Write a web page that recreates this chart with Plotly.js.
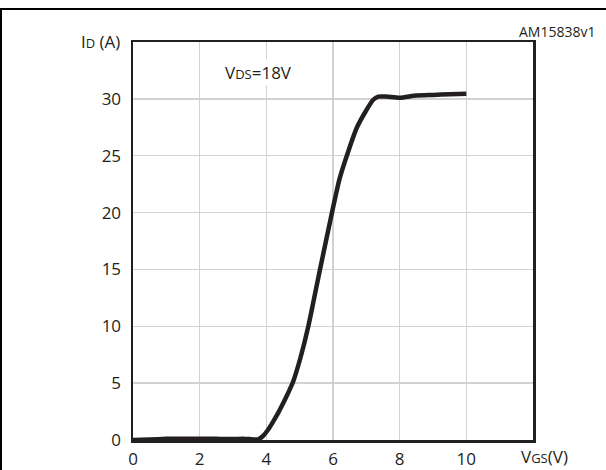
<!DOCTYPE html>
<html>
<head>
<meta charset="utf-8">
<script src="https://cdn.plot.ly/plotly-3.0.1.min.js"></script>
<style>html,body{margin:0;padding:0;background:#fff;}#chart{width:606px;height:470px;}</style>
</head>
<body>
<div id="chart"></div>
<script>
// V_GS (V)
const vgs = [0, 0.5, 1, 1.5, 2, 2.5, 3, 3.3, 3.6, 3.75, 3.9, 4.05, 4.2, 4.36, 4.5, 4.6, 4.8, 5.03, 5.26, 5.61, 5.97, 6.2, 6.46, 6.72, 7.0, 7.2, 7.36, 7.6, 8.0, 8.5, 9.0, 9.5, 10];
// I_D (A)
const id = [0, 0.05, 0.1, 0.12, 0.12, 0.1, 0.08, 0.12, 0.05, 0.05, 0.35, 0.9, 1.6, 2.4, 3.2, 3.8, 5.1, 7.3, 10, 15, 20, 23, 25.4, 27.5, 29, 29.9, 30.2, 30.2, 30.1, 30.3, 30.35, 30.4, 30.45];
const xTicks = [0, 2, 4, 6, 8, 10];
const yTicks = [0, 5, 10, 15, 20, 25, 30];

const FONT = "Open Sans, DejaVu Sans, sans-serif";
const INK = "#231f20";

const trace = {
  x: vgs, y: id, type: "scatter", mode: "lines",
  line: {color: INK, width: 4.5, shape: "spline", smoothing: 0.6},
  hoverinfo: "skip"
};

const W = 606, H = 470, L = 133, R = 73, T = 42, B = 30;
const pw = W - L - R, ph = H - T - B;
const px = p => (p - L) / pw;
const py = p => (H - B - p) / ph;

const layout = {
  width: W, height: H,
  margin: {l: L, r: R, t: T, b: B, pad: 0},
  paper_bgcolor: "#fff", plot_bgcolor: "#fff",
  showlegend: false,
  font: {family: FONT, size: 17, color: INK},
  xaxis: {
    range: [0, 12], tickvals: xTicks, ticktext: xTicks.map(String),
    showgrid: true, gridcolor: "#d2d2d2", gridwidth: 1.5,
    showline: true, mirror: true, linecolor: INK, linewidth: 2.5,
    ticks: "", ticklen: 0, zeroline: false, ticklabelstandoff: 2,
    tickfont: {family: FONT, size: 17, color: INK}, fixedrange: true
  },
  yaxis: {
    range: [0, 35], tickvals: yTicks, ticktext: yTicks.map(String),
    showgrid: true, gridcolor: "#d2d2d2", gridwidth: 1.5,
    showline: true, mirror: true, linecolor: INK, linewidth: 2.5,
    ticks: "", ticklen: 0, zeroline: false, ticklabelstandoff: 6,
    tickfont: {family: FONT, size: 17, color: INK}, fixedrange: true
  },
  shapes: [
    {type: "rect", xref: "paper", yref: "paper",
     x0: px(1), x1: px(700), y0: py(600), y1: py(9),
     line: {color: "#000", width: 2}, fillcolor: "rgba(0,0,0,0)", layer: "below"}
  ],
  annotations: [
    {xref: "paper", yref: "paper", x: px(109), y: py(-1), xanchor: "left", yanchor: "bottom",
     text: "<b>Figure</b>", showarrow: false,
     font: {family: "Liberation Sans, Arial, sans-serif", size: 16, color: "#000"}},
    {xref: "paper", yref: "paper", x: px(122), y: py(41), xanchor: "right", yanchor: "middle",
     text: "I<span style='font-size:13px'>D</span> (A)", showarrow: false,
     font: {family: FONT, size: 17, color: INK}},
    {xref: "paper", yref: "paper", x: px(544), y: py(457), xanchor: "center", yanchor: "middle",
     text: "V<span style='font-size:13px'>GS</span>(V)", showarrow: false,
     font: {family: FONT, size: 17, color: INK}},
    {xref: "paper", yref: "paper", x: px(597), y: py(31), xanchor: "right", yanchor: "middle",
     text: "AM15838v1", showarrow: false,
     font: {family: FONT, size: 14, color: INK}},
    {xref: "paper", yref: "paper", x: px(223), y: py(73), xanchor: "left", yanchor: "middle",
     text: "V<span style='font-size:13px'>DS</span>=18V", showarrow: false, bgcolor: "#fff",
     font: {family: FONT, size: 17, color: INK}}
  ]
};

Plotly.newPlot("chart", [trace], layout, {staticPlot: true, displayModeBar: false});
</script>
</body>
</html>
